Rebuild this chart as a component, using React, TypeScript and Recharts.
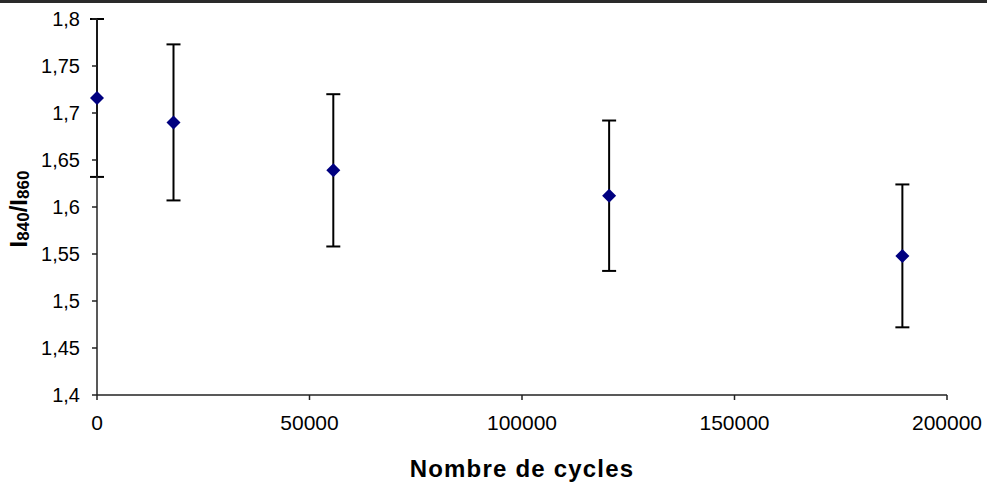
import { ErrorBar, Label, Scatter, ScatterChart, XAxis, YAxis } from "recharts";

// values
const cycles = [0, 18000, 55600, 120500, 189500];
const ratios = [1.716, 1.69, 1.639, 1.612, 1.548];
const errors = [0.084, 0.083, 0.081, 0.08, 0.076];
const xTicks = [0, 50000, 100000, 150000, 200000];
const yTicks = [1.4, 1.45, 1.5, 1.55, 1.6, 1.65, 1.7, 1.75, 1.8];

const data = cycles.map((c, i) => ({ cycles: c, ratio: ratios[i], err: errors[i] }));

const font = "'Liberation Sans', Arial, sans-serif";

function Diamond(props: any) {
  const { cx, cy } = props;
  const r = 7;
  return (
    <polygon
      points={`${cx},${cy - r} ${cx + r},${cy} ${cx},${cy + r} ${cx - r},${cy}`}
      fill="#000080"
    />
  );
}

function YTitle() {
  return (
    <text
      transform="rotate(-90, 27, 209)"
      x={27}
      y={209}
      textAnchor="middle"
      fontFamily={font}
      fontWeight="bold"
      fontSize={24}
      fill="#000"
    >
      I<tspan fontSize={17} dy={2}>840</tspan>
      <tspan dy={-2}>/I</tspan>
      <tspan fontSize={17} dy={2}>860</tspan>
    </text>
  );
}

export default function App() {
  return (
    <div style={{ position: "absolute", top: 0, left: 0, width: 987, height: 483, background: "#fff" }}>
      <div style={{ position: "absolute", top: 0, left: 0, width: 987, height: 3, background: "#2a2a2a" }} />
      <ScatterChart width={987} height={483} margin={{ top: 19, right: 40, bottom: 0, left: 0 }}>
        <XAxis
          type="number"
          dataKey="cycles"
          domain={[0, 200000]}
          ticks={xTicks}
          height={88}
          stroke="#222"
          strokeWidth={1.5}
          tickSize={5}
          tickMargin={15}
          tick={{ fontSize: 21, fill: "#000", fontFamily: font }}
        >
          <Label
            value="Nombre de cycles"
            position="insideBottom"
            offset={6}
            style={{ fontSize: 24, fontWeight: "bold", fill: "#000", fontFamily: font, letterSpacing: "1.2px" }}
          />
        </XAxis>
        <YAxis
          type="number"
          dataKey="ratio"
          domain={[1.4, 1.8]}
          ticks={yTicks}
          width={97}
          stroke="#222"
          strokeWidth={1.5}
          tickSize={5}
          tickMargin={12}
          tickFormatter={(v: number) => String(v).replace(".", ",")}
          tick={{ fontSize: 20, fill: "#000", fontFamily: font }}
          label={<YTitle />}
        />
        <Scatter data={data} shape={<Diamond />} isAnimationActive={false}>
          <ErrorBar dataKey="err" direction="y" width={7} stroke="#000" strokeWidth={2} />
        </Scatter>
      </ScatterChart>
    </div>
  );
}
